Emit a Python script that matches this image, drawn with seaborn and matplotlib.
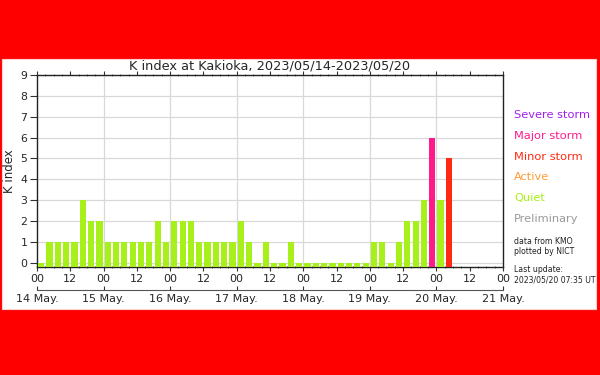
import numpy as np
import pandas as pd
import matplotlib
matplotlib.use("Agg")
import matplotlib.pyplot as plt
from matplotlib.patches import Rectangle
from matplotlib.ticker import MultipleLocator
import seaborn as sns

# ---- data ----
day_labels = ["14 May.", "15 May.", "16 May.", "17 May.", "18 May.", "19 May.", "20 May.", "21 May."]
k_values = [
    0, 1, 1, 1, 1, 3, 2, 2,   # 14 May
    1, 1, 1, 1, 1, 1, 2, 1,   # 15 May
    2, 2, 2, 1, 1, 1, 1, 1,   # 16 May
    2, 1, 0, 1, 0, 0, 1, 0,   # 17 May
    0, 0, 0, 0, 0, 0, 0, 0,   # 18 May
    1, 1, 0, 1, 2, 2, 3, 6,   # 19 May
    3, 5,                     # 20 May (to 06 UT)
]
hour_labels = ["00", "12"]
legend_names = ["Severe storm", "Major storm", "Minor storm", "Active", "Quiet", "Preliminary"]
legend_colors = ["#a020f0", "#ff1a8c", "#ff2a12", "#ff9a33", "#a8f01a", "#9a9a9a"]
title = "K index at Kakioka, 2023/05/14-2023/05/20"
note_lines = ["data from KMO", "plotted by NICT"]
update_lines = ["Last update:", "2023/05/20 07:35 UT"]


def status(k):
    if k >= 7:
        return "Severe storm"
    if k == 6:
        return "Major storm"
    if k == 5:
        return "Minor storm"
    if k == 4:
        return "Active"
    return "Quiet"


palette = dict(zip(legend_names, legend_colors))
base = -0.2
df = pd.DataFrame({
    "hour": np.arange(len(k_values)) * 3 + 1.5,
    "k": k_values,
})
df["height"] = df["k"] - base
df["status"] = df["k"].map(status)

sns.set_style("ticks")
plt.rcParams["font.family"] = ["DejaVu Sans"]

fig = plt.figure(figsize=(6, 3.75), dpi=100)
fig.patch.set_facecolor("#ff0000")
fig.patches.append(Rectangle((0.004, 66 / 375), 0.99, 250 / 375, transform=fig.transFigure,
                             facecolor="white", edgecolor="#ffd0d0", lw=0.8, zorder=-5))

ax = fig.add_axes([37 / 600, 108 / 375, 466 / 600, 192 / 375])
ax.set_facecolor("white")

sns.barplot(data=df, x="hour", y="height", hue="status", palette=palette,
            native_scale=True, dodge=False, width=0.75, errorbar=None, saturation=1,
            legend=False, ax=ax, bottom=base, linewidth=0, zorder=3)

ndays = len(day_labels) - 1
ax.set_xlim(0, ndays * 24)
ax.set_ylim(base, 9)
ax.set_yticks(range(0, 10))
ax.set_yticklabels([str(i) for i in range(0, 10)], fontsize=7.8)
ax.yaxis.grid(True, color="#d8d8d8", lw=0.9, zorder=0)
for d in range(1, ndays):
    ax.axvline(d * 24, color="#d8d8d8", lw=0.9, zorder=0)

ax.set_xticks(range(0, ndays * 24 + 1, 12))
ax.set_xticklabels([hour_labels[i % 2] for i in range(2 * ndays + 1)], fontsize=8)
ax.xaxis.set_minor_locator(MultipleLocator(3))
ax.tick_params(axis="x", which="major", top=True, bottom=True, direction="out", length=3,
               width=0.8, pad=2, color="#333333")
ax.tick_params(axis="x", which="minor", top=True, bottom=True, direction="inout", length=2,
               width=0.6, color="#555555")
ax.tick_params(axis="y", direction="out", length=5, width=0.8, pad=2, color="#333333")
ax.set_xlabel("")
ax.set_ylabel("K index", fontsize=8.5, labelpad=3)
for s in ax.spines.values():
    s.set_color("#222222")
    s.set_linewidth(1.0)

sec = ax.secondary_xaxis(-0.12)
sec.set_xticks(range(0, ndays * 24 + 1, 24))
sec.set_xticklabels(day_labels, fontsize=8)
sec.tick_params(direction="in", length=3, width=0.8, pad=3, color="#333333")
sec.spines["bottom"].set_color("#555555")
sec.spines["bottom"].set_linewidth(0.8)

ax.set_title(title, fontsize=9.3, pad=4)

ys = [115, 136, 157, 177, 198, 219]
for name, color, y in zip(legend_names, legend_colors, ys):
    fig.text(514 / 600, 1 - y / 375, name, color=color, fontsize=8.2, va="center", ha="left")
for i, t in enumerate(note_lines):
    fig.text(514 / 600, 1 - (242 + 10 * i) / 375, t, fontsize=5.6, va="center", ha="left", color="#222222")
for i, t in enumerate(update_lines):
    fig.text(514 / 600, 1 - (270 + 10 * i) / 375, t, fontsize=5.6, va="center", ha="left", color="#222222")

fig.savefig("out.png", dpi=100, facecolor=fig.get_facecolor())
